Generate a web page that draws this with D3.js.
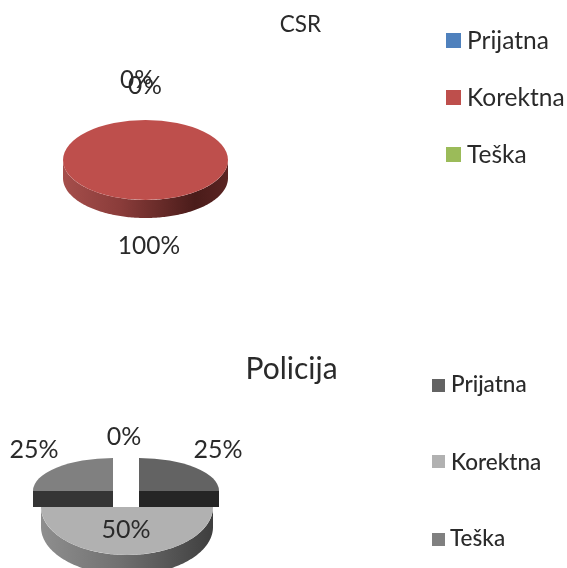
<!DOCTYPE html>
<html>
<head>
<meta charset="utf-8">
<script src="https://cdn.jsdelivr.net/npm/d3@7"></script>
<style>
html,body{margin:0;padding:0;background:#fff}
svg{display:block;filter:blur(0.35px)}
text{font-family:Lato,"Open Sans",sans-serif;fill:#2a2a2a}
</style>
</head>
<body>
<svg id="c" width="567" height="568"></svg>
<script>
const categories = ["Prijatna", "Korektna", "Teška"];
const csrValues = [0, 100, 0];
const policijaValues = [25, 50, 25, 0];
const csrColors = ["#4F81BD", "#BE4F4C", "#9BBB59"];
const policijaColors = ["#636363", "#B1B1B1", "#808080", "#999999"];

const svg = d3.select("#c");
const defs = svg.append("defs");
const pct = d3.format(".0%");

function grad(id, stops) {
  const g = defs.append("linearGradient").attr("id", id);
  stops.forEach(s => g.append("stop").attr("offset", s[0]).attr("stop-color", s[1]));
}
grad("wallRed", [[0, "#A54E4B"], [0.35, "#8A3C3A"], [0.8, "#4A1C1A"], [1, "#5A2422"]]);
grad("wallGray", [[0, "#8E8E8E"], [0.45, "#717171"], [1, "#3E3E3E"]]);

const pie = d3.pie().sort(null).value(d => d);

// Unit-radius arc, stretched into an ellipse by the slice's own transform
const unitArc = d3.arc().innerRadius(0).outerRadius(1);

function ellipsePoint(g, a, dy) {
  return [g.cx + g.rx * Math.sin(a), g.cy + dy - g.ry * Math.cos(a)];
}

function drawTop(layer, slice, g, fill) {
  layer.append("path")
    .attr("d", unitArc(slice))
    .attr("transform", `translate(${g.cx},${g.cy}) scale(${g.rx},${g.ry})`)
    .attr("fill", fill);
}

function drawWall(layer, slice, g, fill) {
  const a0 = Math.max(slice.startAngle, Math.PI / 2);
  const a1 = Math.min(slice.endAngle, 1.5 * Math.PI);
  if (a1 <= a0) return;
  const steps = d3.range(a0, a1, 0.02).concat([a1]);
  const lower = steps.map(a => ellipsePoint(g, a, g.depth));
  const upper = steps.map(a => ellipsePoint(g, a, 0)).reverse();
  layer.append("path")
    .attr("d", d3.line()(lower.concat(upper)) + "Z")
    .attr("fill", fill);
}

function drawLabel(layer, value, total, pos, size) {
  layer.append("text")
    .attr("x", pos[0]).attr("y", pos[1])
    .attr("text-anchor", "middle")
    .attr("font-size", size)
    .text(pct(value / total));
}

function drawLegend(layer, colors, rows, textSize, weight) {
  categories.forEach((c, i) => {
    const r = rows[i];
    layer.append("rect")
      .attr("x", r.sx).attr("y", r.sy)
      .attr("width", r.s).attr("height", r.s)
      .attr("fill", colors[i]);
    layer.append("text")
      .attr("x", r.tx).attr("y", r.ty)
      .attr("font-size", textSize)
      .attr("font-weight", weight)
      .attr("fill", "#111")
      .text(c);
  });
}

/* ---------- CSR ---------- */
const csr = svg.append("g");
csr.append("text").attr("x", 300.5).attr("y", 32)
  .attr("text-anchor", "middle").attr("font-size", 22.5).text("CSR");

const csrGeom = { cx: 145.5, cy: 160, rx: 82.5, ry: 40, depth: 18 };
const csrSlices = pie(csrValues);
csrSlices.forEach(s => drawWall(csr, s, csrGeom, "url(#wallRed)"));
csrSlices.forEach((s, i) => drawTop(csr, s, csrGeom, csrColors[i]));

const csrTotal = d3.sum(csrValues);
const csrLabelPos = [[137, 88], [149, 254], [145, 94]];
csrValues.forEach((v, i) => drawLabel(csr, v, csrTotal, csrLabelPos[i], 24.5));

drawLegend(csr, csrColors, [
  { sx: 446, sy: 33, s: 15, tx: 467, ty: 49 },
  { sx: 446, sy: 90, s: 15, tx: 467, ty: 106 },
  { sx: 446, sy: 147, s: 15, tx: 467, ty: 163 }
], 24.5, 400);

/* ---------- Policija ---------- */
const pol = svg.append("g");
pol.append("text").attr("x", 291.5).attr("y", 379)
  .attr("text-anchor", "middle").attr("font-size", 30).text("Policija");

const polGeoms = [
  { cx: 139, cy: 491, rx: 80, ry: 33, depth: 0 },
  { cx: 127, cy: 507, rx: 86, ry: 48, depth: 20 },
  { cx: 113, cy: 491, rx: 80, ry: 33, depth: 0 }
];
const polFaces = [
  { x: 139, w: 80, y: 491, h: 16, fill: "#252525" },
  null,
  { x: 33, w: 80, y: 491, h: 16, fill: "#353535" }
];
const polSlices = pie(policijaValues);

polSlices.slice(0, 3).forEach((s, i) => {
  drawWall(pol, s, polGeoms[i], "url(#wallGray)");
  drawTop(pol, s, polGeoms[i], policijaColors[i]);
  const f = polFaces[i];
  if (f) pol.append("rect").attr("x", f.x).attr("y", f.y)
    .attr("width", f.w).attr("height", f.h).attr("fill", f.fill);
});

const polTotal = d3.sum(policijaValues);
const polLabelPos = [[218, 458], [126, 538], [34, 458], [124, 445]];
policijaValues.forEach((v, i) => drawLabel(pol, v, polTotal, polLabelPos[i], 25));

drawLegend(pol, policijaColors, [
  { sx: 432, sy: 379, s: 13, tx: 451, ty: 392 },
  { sx: 432, sy: 455, s: 13, tx: 451, ty: 470 },
  { sx: 432, sy: 533, s: 13, tx: 450, ty: 546 }
], 22.5, 500);
</script>
</body>
</html>
